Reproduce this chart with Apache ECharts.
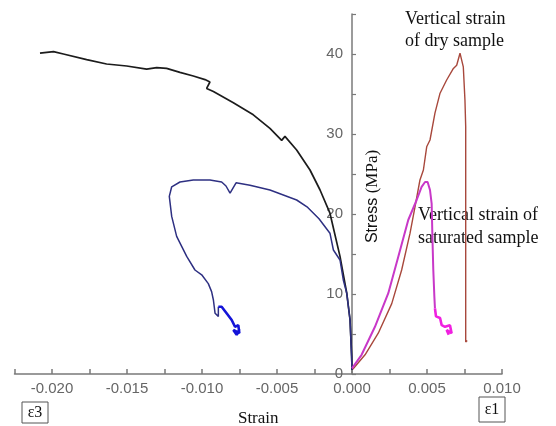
<!DOCTYPE html>
<html>
<head>
<meta charset="utf-8">
<script src="https://cdn.jsdelivr.net/npm/echarts@6/dist/echarts.min.js"></script>
<style>
  html, body { margin: 0; padding: 0; background: #fff; }
  #chart { width: 556px; height: 426px; }
</style>
</head>
<body>
<div id="chart"></div>
<script>
// Lateral strain (ε3) of the dry sample, from the origin outwards
const dryLateralStrain = [0.0000, -0.00002, -0.00013, -0.00035, -0.0008, -0.00147, -0.00213, -0.0028, -0.00369, -0.00447, -0.00469, -0.00547, -0.00658, -0.00791, -0.00924, -0.00969, -0.00947, -0.0098, -0.01058, -0.01147, -0.01236, -0.01302, -0.01369, -0.01502, -0.01636, -0.01769, -0.01924, -0.0199, -0.0208];
const dryLateralStress = [0.5, 2.2, 6.75, 10.1, 14.7, 20.1, 23.0, 25.5, 28.0, 29.7, 29.2, 30.7, 32.4, 33.9, 35.3, 35.7, 36.5, 36.8, 37.25, 37.7, 38.2, 38.3, 38.1, 38.5, 38.75, 39.3, 40.0, 40.3, 40.1];

// Lateral strain (ε3) of the saturated sample
const satLateralStrain = [0.0, -0.00003, -0.00013, -0.00035, -0.00058, -0.0008, -0.00124, -0.00147, -0.0022, -0.003, -0.00369, -0.00547, -0.0068, -0.00773, -0.00813, -0.0084, -0.00869, -0.00947, -0.01058, -0.01147, -0.01202, -0.01218, -0.01202, -0.01169, -0.01102, -0.01047, -0.01002, -0.00958, -0.00936, -0.00924, -0.00913, -0.00891, -0.00891];
const satLateralStress = [0.5, 2.2, 6.75, 10.1, 11.75, 14.25, 15.5, 17.6, 19.4, 20.9, 21.75, 23.0, 23.6, 23.9, 22.6, 23.5, 24.0, 24.25, 24.25, 24.0, 23.4, 22.2, 19.7, 17.2, 14.7, 13.0, 12.4, 11.3, 10.3, 9.25, 7.6, 7.2, 8.4];
// residual part after failure
const satLateralTailStrain = [-0.00891, -0.00869, -0.00836, -0.00802, -0.0078, -0.00758, -0.00751, -0.00791, -0.00769, -0.0075];
const satLateralTailStress = [8.4, 8.4, 7.6, 6.75, 5.9, 6.1, 5.1, 5.5, 4.9, 5.6];

// Vertical strain (ε1) of the dry sample
const dryVerticalStrain = [0.00005, 0.00087, 0.00175, 0.00265, 0.00331, 0.00387, 0.0042, 0.00453, 0.00476, 0.00498, 0.0052, 0.00553, 0.00587, 0.00631, 0.00676, 0.00698, 0.0072, 0.00731, 0.00742, 0.00753, 0.00758, 0.00758, 0.00768];
const dryVerticalStress = [0.6, 2.4, 5.1, 8.8, 13.0, 17.6, 20.9, 24.25, 25.5, 28.4, 29.25, 32.6, 35.1, 36.75, 38.2, 38.6, 40.1, 40.3, 38.4, 34.25, 30.9, 4.0, 4.2];

// Vertical strain (ε1) of the saturated sample
const satVerticalStrain = [0.0, 0.00064, 0.00153, 0.00242, 0.00309, 0.00375, 0.00431, 0.00464, 0.00487, 0.00504, 0.0052, 0.00531, 0.00536, 0.00542, 0.00549, 0.00553];
const satVerticalStress = [0.7, 2.4, 5.9, 10.1, 14.7, 19.25, 21.75, 23.4, 24.0, 24.0, 23.0, 21.3, 17.2, 13.0, 9.7, 8.2];
const satVerticalTailStrain = [0.00553, 0.00564, 0.0056, 0.00587, 0.00598, 0.0062, 0.00653, 0.00664, 0.00631, 0.00645];
const satVerticalTailStress = [8.2, 8.0, 7.2, 7.0, 6.1, 5.9, 6.1, 5.1, 5.5, 4.9];

// Axis ranges and ticks
const strainMin = -0.0225, strainMax = 0.010, strainStep = 0.0025;
const stressMin = 0, stressMax = 45, stressStep = 5;

const pairs = (xs, ys) => xs.map((x, i) => [x, ys[i]]);

const serif = 'Liberation Serif';
const sans = 'Liberation Sans';

const gridLeft = 14.5, gridRight = 54;
const plotWidth = 556 - gridLeft - gridRight;
// the stress axis sits on zero strain, inside the plot
const stressAxisOffset = -plotWidth * (0 - strainMin) / (strainMax - strainMin);

const lineSeries = (name, xs, ys, color, width) => ({
  name, type: 'line', data: pairs(xs, ys),
  showSymbol: false, symbol: 'none', smooth: false,
  lineStyle: { color, width }, silent: true, animation: false, z: 3
});

const chart = echarts.init(document.getElementById('chart'), null, { renderer: 'canvas' });

chart.setOption({
  animation: false,
  backgroundColor: '#ffffff',
  grid: { left: gridLeft, right: gridRight, top: 14, bottom: 52, containLabel: false, outerBoundsMode: 'none' },
  xAxis: {
    type: 'value', min: strainMin, max: strainMax, interval: strainStep,
    name: 'Strain', nameLocation: 'middle', nameGap: 36,
    nameTextStyle: { fontFamily: serif, fontSize: 17, color: '#111' },
    axisLine: { onZero: false, lineStyle: { color: '#7a7a7a', width: 1.5 } },
    axisTick: { inside: true, length: 5, lineStyle: { color: '#7a7a7a', width: 1.5 } },
    axisLabel: {
      margin: 7, fontFamily: sans, fontSize: 15, color: '#666',
      formatter: v => (Math.round(v * 10000) % 50 === 0) ? v.toFixed(3) : ''
    },
    splitLine: { show: false }
  },
  yAxis: {
    type: 'value', min: stressMin, max: stressMax, interval: stressStep,
    offset: stressAxisOffset,
    axisLine: { onZero: false, lineStyle: { color: '#7a7a7a', width: 1.5 } },
    axisTick: { inside: true, length: 4, lineStyle: { color: '#7a7a7a', width: 1.2 } },
    axisLabel: {
      margin: 9, fontFamily: sans, fontSize: 15, color: '#666',
      formatter: v => (v % 10 === 0) ? String(v) : ''
    },
    splitLine: { show: false }
  },
  graphic: [
    {
      type: 'text', x: 373, y: 196.5, rotation: Math.PI / 2,
      style: {
        text: '{a|Stress }{b|(MPa)}', align: 'center', verticalAlign: 'middle',
        rich: {
          a: { fontFamily: sans, fontSize: 16, fill: '#111' },
          b: { fontFamily: serif, fontSize: 17, fill: '#111' }
        }
      }
    },
    {
      type: 'text', x: 405, y: 8,
      style: { text: 'Vertical strain\nof dry sample', fontFamily: serif, fontSize: 18, lineHeight: 22, fill: '#111', align: 'left', verticalAlign: 'top' }
    },
    {
      type: 'text', x: 418, y: 204,
      style: { text: 'Vertical strain of\nsaturated sample', fontFamily: serif, fontSize: 18, lineHeight: 23, fill: '#111', align: 'left', verticalAlign: 'top' }
    },
    {
      type: 'rect', shape: { x: 22, y: 402, width: 26, height: 21 },
      style: { fill: '#fff', stroke: '#555', lineWidth: 1 }
    },
    {
      type: 'text', x: 35, y: 412.5,
      style: { text: 'ε3', fontFamily: serif, fontSize: 16, fill: '#111', align: 'center', verticalAlign: 'middle' }
    },
    {
      type: 'rect', shape: { x: 479, y: 397, width: 26, height: 25 },
      style: { fill: '#fff', stroke: '#555', lineWidth: 1 }
    },
    {
      type: 'text', x: 492, y: 409.5,
      style: { text: 'ε1', fontFamily: serif, fontSize: 16, fill: '#111', align: 'center', verticalAlign: 'middle' }
    }
  ],
  series: [
    lineSeries('dry ε3', dryLateralStrain, dryLateralStress, '#1c1c1c', 1.7),
    lineSeries('saturated ε3', satLateralStrain, satLateralStress, '#2e3082', 1.5),
    lineSeries('saturated ε3 residual', satLateralTailStrain, satLateralTailStress, '#1414d8', 2.6),
    lineSeries('dry ε1', dryVerticalStrain, dryVerticalStress, '#a8483c', 1.4),
    lineSeries('saturated ε1', satVerticalStrain, satVerticalStress, '#c838c8', 2),
    lineSeries('saturated ε1 residual', satVerticalTailStrain, satVerticalTailStress, '#f020e0', 2.6)
  ]
});
</script>
</body>
</html>
